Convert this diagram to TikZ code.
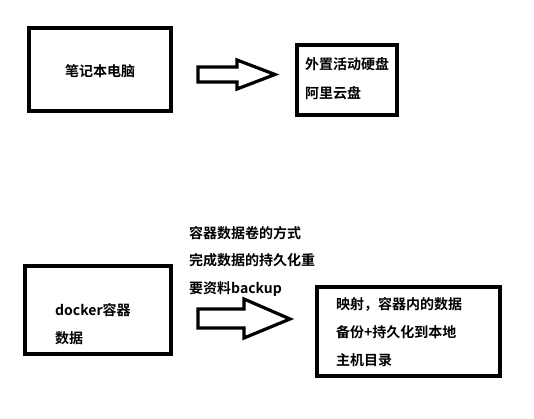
\documentclass[tikz,border=0pt]{standalone}
\usepackage{fontspec}
\setmainfont{Noto Sans CJK SC}[BoldFont={Noto Sans CJK SC Bold}]
\begin{document}
\begin{tikzpicture}[x=1pt,y=-1pt,
  box/.style={draw=black,line width=4pt},
  blockarrow/.style={draw=black,line width=3.2pt,line join=miter,fill=white},
  lbl/.style={anchor=west,inner sep=0pt,font=\fontsize{14}{16}\selectfont\bfseries,text height=0.86em,text depth=0.14em}]
\useasboundingbox[fill=white] (0,0) rectangle (534,419);
% top row
\draw[box] (28.5,28.5) rectangle (170.7,111.3);
\draw[box] (296.7,45.3) rectangle (396.7,115.3);
\node[lbl] (laptop) at (65,72.5) {笔记本电脑};
\node[lbl] (disk) at (305,66) {外置活动硬盘};
\node[lbl] (cloud) at (305,94.5) {阿里云盘};
\draw[blockarrow] (198,67) -- (237,67) -- (237,60) -- (275,74.5) -- (237,89) -- (237,82) -- (198,82) -- cycle;
% bottom row
\draw[box] (24.7,266) rectangle (170.7,354);
\draw[box] (316.7,287) rectangle (500,375.7);
\node[lbl] (docker) at (55,311.5) {docker容器};
\node[lbl] (data) at (55,340) {数据};
\node[lbl] (m1) at (189,234.5) {容器数据卷的方式};
\node[lbl] (m2) at (189,262) {完成数据的持久化重};
\node[lbl] (m3) at (189,290) {要资料backup};
\node[lbl] (r1) at (336,306) {映射，容器内的数据};
\node[lbl] (r2) at (336,334) {备份+持久化到本地};
\node[lbl] (r3) at (336,361.7) {主机目录};
\draw[blockarrow] (198,309) -- (244,309) -- (244,299) -- (290,319) -- (244,338) -- (244,328) -- (198,328) -- cycle;
\end{tikzpicture}
\end{document}
